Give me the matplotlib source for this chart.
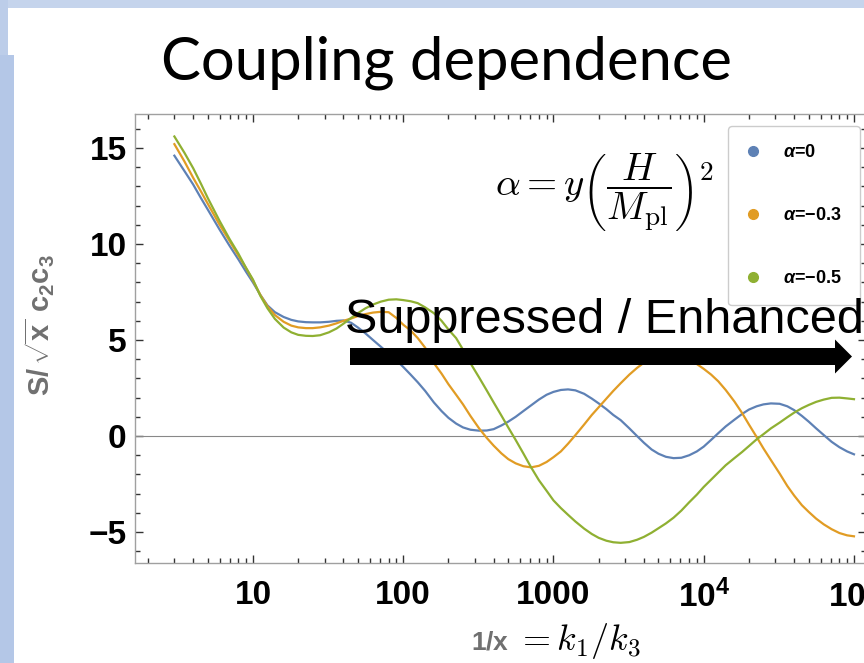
import matplotlib
matplotlib.use("Agg")
import matplotlib.pyplot as plt
from matplotlib.patches import Rectangle, FancyArrow
from matplotlib.lines import Line2D
from matplotlib.ticker import FixedLocator, LogLocator, NullFormatter, MultipleLocator

# values (x = 1/x = k1/k3, log axis)
k_ratio = [3, 3.5, 4, 4.5, 5, 6, 7, 8, 9,
           10, 11.2, 12.5, 14, 16, 18, 20, 22.5, 25, 28, 32, 36, 40, 45, 50, 56, 63, 71, 80, 90,
           100, 112, 125, 140, 160, 180, 200, 225, 250, 280, 320, 360, 400, 450, 500, 560, 630,
           710, 800, 900,
           1000, 1120, 1250, 1400, 1600, 1800, 2000, 2250, 2500, 2800, 3200, 3600, 4000, 4500,
           5000, 5600, 6300, 7100, 8000, 9000,
           10000, 11200, 12500, 14000, 16000, 18000, 20000, 22500, 25000, 28000, 32000, 36000,
           40000, 45000, 50000, 56000, 63000, 71000, 80000, 90000,
           100000]
s_alpha_0 = [14.6, 13.8, 13.1, 12.4, 11.8, 10.75, 9.9, 9.2, 8.55,
             8.0, 7.35, 6.8, 6.45, 6.2, 6.05, 5.97, 5.93, 5.92, 5.92, 5.95, 6.0, 6.02, 5.9, 5.65,
             5.35, 5.0, 4.65, 4.3, 3.95,
             3.6, 3.2, 2.8, 2.35, 1.75, 1.3, 0.95, 0.65, 0.45, 0.33, 0.28, 0.29, 0.36, 0.55, 0.75,
             1.0, 1.3, 1.6, 1.9, 2.15,
             2.3, 2.4, 2.43, 2.38, 2.2, 1.95, 1.7, 1.4, 1.1, 0.83, 0.4, 0.0, -0.35, -0.7, -0.92,
             -1.08, -1.15, -1.13, -1.0, -0.8,
             -0.55, -0.2, 0.15, 0.5, 0.85, 1.15, 1.38, 1.55, 1.65, 1.7, 1.68, 1.55, 1.35, 1.05,
             0.75, 0.4, 0.05, -0.3, -0.58, -0.8,
             -0.95]
s_alpha_03 = [15.2, 14.3, 13.45, 12.75, 12.1, 11.0, 10.15, 9.4, 8.75,
              8.1, 7.35, 6.75, 6.3, 5.95, 5.75, 5.66, 5.62, 5.62, 5.66, 5.75, 5.87, 6.0, 6.12, 6.25,
              6.35, 6.43, 6.47, 6.45, 6.15,
              5.8, 5.5, 5.1, 4.6, 3.8, 3.25, 2.7, 2.15, 1.65, 1.05, 0.4, -0.1, -0.5, -0.9, -1.2,
              -1.42, -1.57, -1.63, -1.55, -1.35,
              -1.1, -0.8, -0.4, 0.05, 0.6, 1.1, 1.5, 1.95, 2.35, 2.75, 3.2, 3.55, 3.82, 4.02, 4.15,
              4.21, 4.22, 4.15, 4.0, 3.75,
              3.5, 3.2, 2.85, 2.4, 1.8, 1.2, 0.6, -0.05, -0.65, -1.25, -1.95, -2.6, -3.1, -3.6,
              -3.95, -4.3, -4.6, -4.85, -5.05, -5.17,
              -5.22]
s_alpha_05 = [15.6, 14.75, 13.95, 13.15, 12.4, 11.2, 10.25, 9.5, 8.75,
              8.15, 7.3, 6.65, 6.1, 5.65, 5.4, 5.27, 5.22, 5.21, 5.25, 5.4, 5.6, 5.85, 6.15, 6.4,
              6.65, 6.85, 7.0, 7.1, 7.12,
              7.08, 7.02, 6.92, 6.7, 6.4, 6.0, 5.55, 5.1, 4.5, 3.8, 3.05, 2.37, 1.75, 1.07, 0.45,
              -0.2, -0.9, -1.63, -2.3, -2.85,
              -3.35, -3.75, -4.1, -4.45, -4.82, -5.1, -5.3, -5.45, -5.53, -5.56, -5.52, -5.4, -5.25,
              -5.03, -4.8, -4.55, -4.25, -3.88, -3.45, -3.05,
              -2.65, -2.27, -1.9, -1.52, -1.15, -0.83, -0.52, -0.17, 0.1, 0.4, 0.7, 0.98, 1.22,
              1.45, 1.62, 1.78, 1.9, 1.99, 2.0, 1.96,
              1.92]
series = [s_alpha_0, s_alpha_03, s_alpha_05]
series_labels = [r"$\alpha$=0", "$\\alpha$=\u22120.3", "$\\alpha$=\u22120.5"]
colors = ["#5e81b5", "#e19c24", "#8fb032"]

x_ticks = [10, 100, 1000, 1e4, 1e5]
x_tick_labels = ["10", "100", "1000", r"$\mathbf{10^4}$", r"$\mathbf{10^5}$"]
y_ticks = [-5, 0, 5, 10, 15]
y_tick_labels = ["\u22125", "0", "5", "10", "15"]

plt.rcParams["font.family"] = ["Liberation Sans", "DejaVu Sans"]
plt.rcParams["mathtext.fontset"] = "custom"
plt.rcParams["mathtext.rm"] = "Liberation Sans"
plt.rcParams["mathtext.bf"] = "Liberation Sans:bold"
plt.rcParams["mathtext.it"] = "Liberation Sans:italic:bold"

W, H = 864, 663
fig = plt.figure(figsize=(W / 100, H / 100), dpi=100)


def fx(px):
    return px / W


def fy(py):
    return 1 - py / H


# slide background bands
fig.add_artist(Rectangle((0, fy(8)), 1, 8 / H, transform=fig.transFigure,
                         color="#c5d4ec", lw=0, zorder=0))
fig.add_artist(Rectangle((0, 0), fx(8), 1, transform=fig.transFigure,
                         color="#bccde9", lw=0, zorder=0))
fig.add_artist(Rectangle((0, 0), fx(14), fy(55), transform=fig.transFigure,
                         color="#b4c7e7", lw=0, zorder=0))

fig.text(fx(446), fy(80), "Coupling dependence", ha="center", va="baseline",
         fontsize=43, family="Lato")

ax = fig.add_axes([fx(135), fy(563), fx(866) - fx(135), fy(114) - fy(563)])
ax.set_xscale("log")
ax.set_xlim(10 ** 0.215, 10 ** 5.08)
ax.set_ylim(-6.61, 16.77)

for vals, c in zip(series, colors):
    ax.plot(k_ratio, vals, color=c, lw=1.6, zorder=3, solid_joinstyle="round")
ax.axhline(0, color="#888888", lw=0.8, zorder=2)

for sp in ax.spines.values():
    sp.set_color("#a0a0a0")
    sp.set_linewidth(1.0)

ax.xaxis.set_major_locator(FixedLocator(x_ticks))
ax.set_xticklabels(x_tick_labels)
ax.xaxis.set_minor_locator(LogLocator(base=10, subs=range(2, 10), numticks=20))
ax.xaxis.set_minor_formatter(NullFormatter())
ax.yaxis.set_major_locator(FixedLocator(y_ticks))
ax.set_yticklabels(y_tick_labels)
ax.yaxis.set_minor_locator(MultipleLocator(1))
ax.tick_params(which="both", direction="in", top=True, right=True, color="#333333", width=1)
ax.tick_params(which="major", length=6)
ax.tick_params(which="minor", length=3.6)
ax.tick_params(axis="x", which="major", pad=12, labelsize=24)
ax.tick_params(axis="y", which="major", pad=6, labelsize=24)
for lab in ax.get_xticklabels() + ax.get_yticklabels():
    lab.set_fontweight("bold")

# axis labels
fig.text(fx(40), fy(325), r"$\mathbf{S/\,\sqrt{x}\ c_2c_3}$", rotation=90,
         ha="center", va="center", fontsize=21, color="#707070")
fig.text(fx(509), fy(650), r"$\mathbf{1/x}$", ha="right", va="baseline",
         fontsize=19, color="#707070")
fig.text(fx(516), fy(650), r"$= k_1/k_3$", ha="left", va="baseline",
         fontsize=26, math_fontfamily="cm")

# coupling formula
fig.text(fx(604), fy(193), r"$\alpha = y\left(\dfrac{H}{M_{\rm pl}}\right)^2$",
         ha="center", va="center", fontsize=28, math_fontfamily="cm")

# legend
handles = [Line2D([], [], ls="none", marker="o", ms=7, color=c) for c in colors]
leg = ax.legend(handles, series_labels, loc="upper left",
                bbox_to_anchor=(fx(728), fy(126)), bbox_transform=fig.transFigure,
                prop={"weight": "bold", "size": 13}, frameon=True, fancybox=True,
                edgecolor="#cccccc", framealpha=1, labelspacing=2.55, borderpad=1.0,
                handlelength=0.8, handletextpad=1.25, borderaxespad=0)
leg.set_zorder(5)

# annotation
fig.text(fx(345), fy(333), "Suppressed / Enhanced", ha="left", va="baseline",
         fontsize=35, zorder=6)
fig.add_artist(FancyArrow(3.50, (H - 356.5) / 100, 5.02, 0, width=0.17, head_width=0.34,
                          head_length=0.17, length_includes_head=True,
                          transform=fig.dpi_scale_trans, color="black", lw=0, zorder=6))

fig.savefig("out.png", dpi=100)
